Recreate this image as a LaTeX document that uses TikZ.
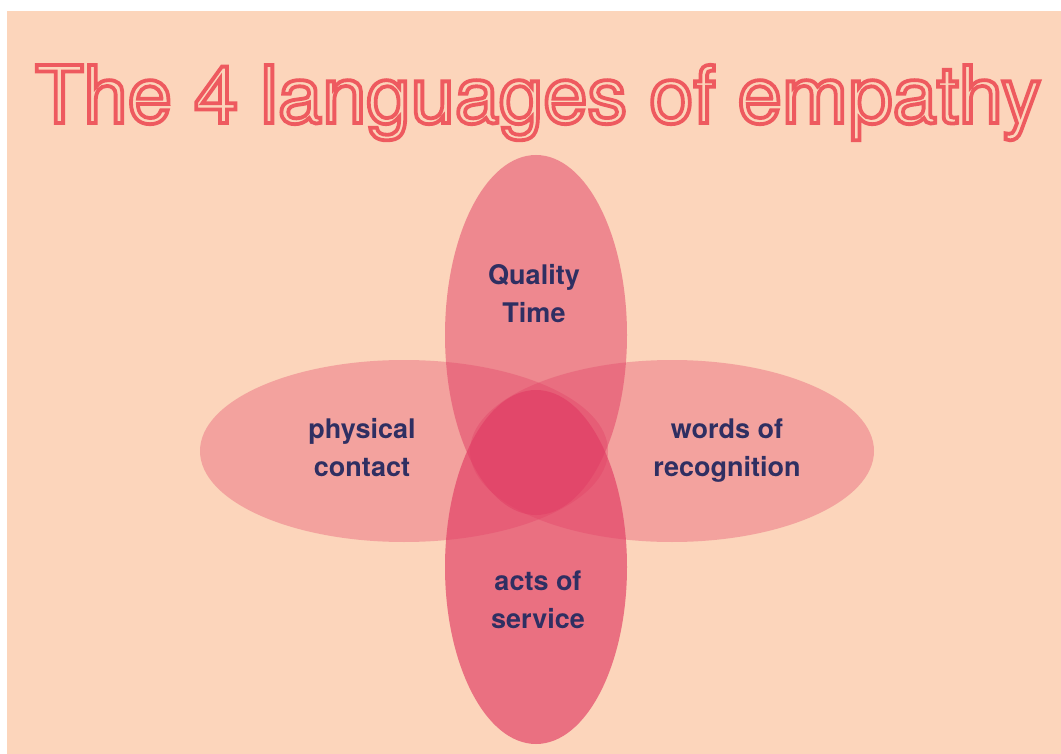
\documentclass[tikz,border=0pt]{standalone}
\usepackage{fontspec}
\setmainfont{TeX Gyre Heros}

\definecolor{peach}{HTML}{FCD5BB}
\definecolor{petalred}{HTML}{E13C64}
\definecolor{titlered}{HTML}{EE5A5F}
\definecolor{navy}{HTML}{2F2F62}

% hollow letters: stroke the glyphs only
\newcommand{\hollowtext}[1]{\special{pdf:literal direct 1 Tr 3.8 w}#1\special{pdf:literal direct 0 Tr 1 w}}

\tikzset{
  petal/.style={fill=petalred, draw=none},
  lang/.style={font=\bfseries\fontsize{27}{38}\selectfont, text=navy, align=center, inner sep=0pt},
  headline/.style={font=\fontsize{79.5}{90}\selectfont, text=titlered, anchor=base, inner sep=0pt}
}

\begin{document}
\begin{tikzpicture}[x=1pt, y=-1pt]

\useasboundingbox (0,0) rectangle (1061,754);
\fill[white] (0,0) rectangle (1061,754);
\fill[peach] (7,11) rectangle (1061,754);

\node[headline] (title) at (538,123) {\hollowtext{The 4 languages of empathy}};

% the four petals
\fill[petal, fill opacity=0.33] (404,451) ellipse [x radius=204pt, y radius=91pt];
\fill[petal, fill opacity=0.33] (672,451) ellipse [x radius=202pt, y radius=91pt];
\fill[petal, fill opacity=0.5] (536,335) ellipse [x radius=91pt, y radius=180pt];
\fill[petal, fill opacity=0.66] (536,567) ellipse [x radius=91pt, y radius=177pt];

\node[lang] (quality) at (534,294) {Quality\\Time};
\node[lang] (physical) at (362,448) {physical\\contact};
\node[lang] (words) at (727,451) {words of\\recognition};
\node[lang] (acts) at (538,600) {acts of\\service};

\end{tikzpicture}
\end{document}
